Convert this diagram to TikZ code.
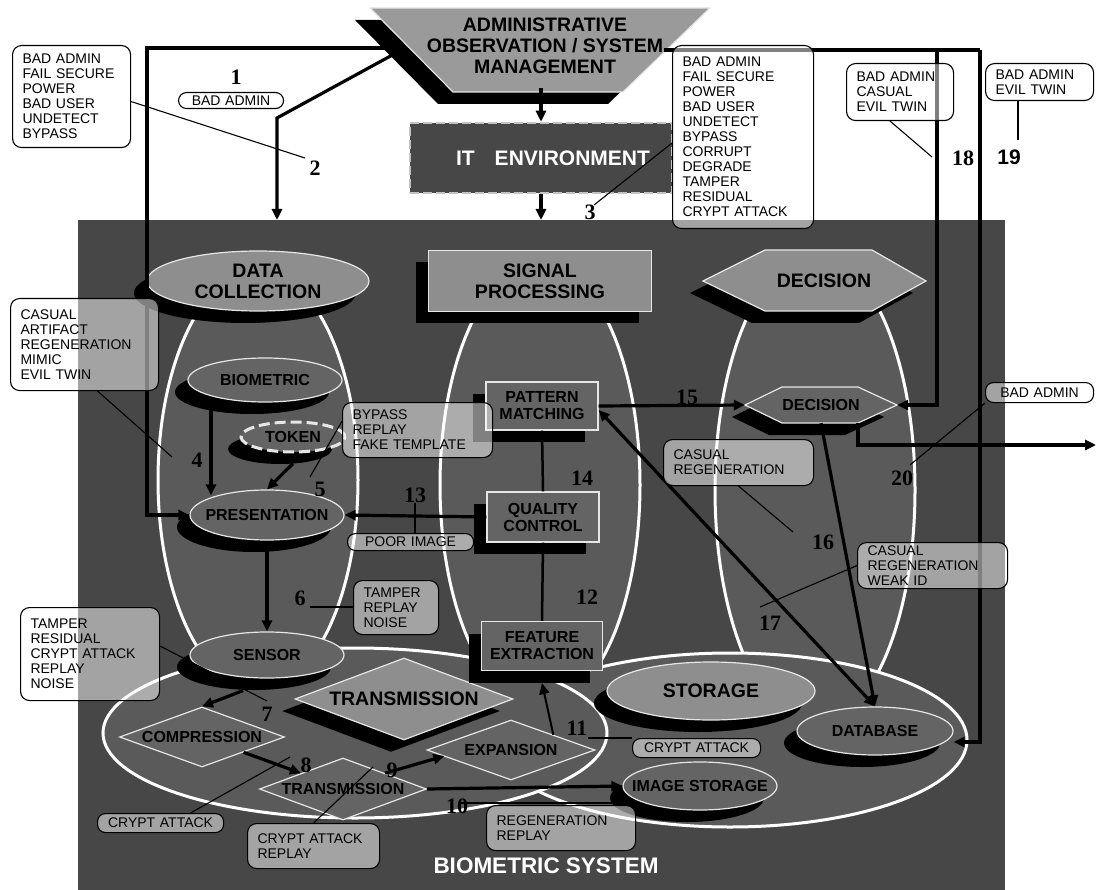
\documentclass[tikz,border=0pt]{standalone}
\usepackage{fontspec}
\setmainfont{Liberation Serif}
\setsansfont{Liberation Sans}
\usetikzlibrary{shapes.geometric,arrows.meta,shadows,positioning}

\definecolor{sysgray}{HTML}{474747}
\definecolor{zonegray}{HTML}{5A5A5A}
\definecolor{unitgray}{HTML}{646464}
\definecolor{headgray}{HTML}{8E8E8E}
\definecolor{admgray}{HTML}{9A9A9A}
\definecolor{rimgray}{HTML}{E6E6E6}

\newcommand\headfont{\sffamily\bfseries\fontsize{19.5}{21}\selectfont}
\newcommand\unitfont{\sffamily\bfseries\fontsize{16}{17}\selectfont}
\newcommand\notefont{\sffamily\fontsize{14}{15}\selectfont}
\newcommand\numfont{\rmfamily\bfseries\fontsize{22}{24}\selectfont}

\tikzset{
  blackshadow/.style={drop shadow={shadow xshift=-13pt,shadow yshift=-12pt,fill=black,opacity=1}},
  zone/.style={fill=zonegray,draw=white,line width=3pt},
  headunit/.style={fill=headgray,draw=rimgray,line width=1.2pt,font=\headfont,align=center,inner sep=0pt},
  unit/.style={fill=unitgray,draw=rimgray,line width=1.2pt,font=\unitfont,align=center,inner sep=0pt},
  note/.style={draw=black,line width=1.1pt,rounded corners=9pt,fill=white,fill opacity=0.5,text opacity=1,
    font=\notefont,align=left,anchor=north west,inner xsep=10pt,inner ysep=2pt},
  pill/.style={note,align=center,inner xsep=6pt,rounded corners=8pt},
  num/.style={font=\numfont,inner sep=0pt},
  flow/.style={line width=3.2pt,-{Triangle[length=11pt,width=10pt]}},
  bothflow/.style={line width=3.2pt,{Triangle[length=11pt,width=10pt]}-{Triangle[length=11pt,width=10pt]}},
  link/.style={line width=2.5pt},
  lead/.style={line width=1.1pt},
}

\begin{document}
\begin{tikzpicture}[x=1pt,y=-1pt]
  \useasboundingbox (0,0) rectangle (1097,890);

  %Shape: Rectangle [biometric system area]
  \node[fill=sysgray,anchor=north west,minimum width=927,minimum height=670,inner sep=0pt] (biosys) at (78,220) {};

  %Shape: Ellipse [zones]
  \draw[zone] (258,480) ellipse [x radius=100, y radius=210];
  \draw[zone] (540,485) ellipse [x radius=100, y radius=222];
  \draw[zone] (815,490) ellipse [x radius=100, y radius=235];
  \draw[zone] (730,740) ellipse [x radius=237, y radius=87];
  \draw[zone] (355,733) ellipse [x radius=252, y radius=85];

  %Shape: Trapezoid [administration]
  \fill[black] (355,20) -- (695,20) -- (608,104) -- (438,104) -- cycle;
  \draw[fill=admgray,draw=rimgray,line width=1.2pt] (370,8) -- (710,8) -- (623,92) -- (453,92) -- cycle;
  \node[font=\headfont,align=center,minimum width=170,minimum height=84,inner sep=0pt] (adm) at (545,46) {ADMINISTRATIVE\\OBSERVATION / SYSTEM\\MANAGEMENT};

  %Shape: Rectangle [IT environment]
  \node[fill=sysgray,draw=rimgray!85!black,line width=2.5pt,dash pattern=on 9pt off 4pt,minimum width=262,minimum height=70,
    font=\sffamily\bfseries\fontsize{21}{24}\selectfont,text=white] (itenv) at (541,158) {\hspace*{24pt}IT\hspace{20pt}ENVIRONMENT};

  %Shape: headers
  \node[headunit,ellipse,blackshadow,minimum width=222,minimum height=60] (datacol) at (258,281) {DATA\\COLLECTION};
  \node[headunit,rectangle,blackshadow,minimum width=223,minimum height=61] (sigproc) at (540,281) {SIGNAL\\PROCESSING};
  \fill[black] (690,293) -- (752,262) -- (859,262) -- (913,293) -- (859,323) -- (752,323) -- cycle;
  \draw[fill=headgray,draw=rimgray,line width=1.2pt] (703,281) -- (765,250) -- (872,250) -- (926,281) -- (872,311) -- (765,311) -- cycle;
  \node[font=\headfont,minimum width=223,minimum height=61,inner sep=0pt] (dechead) at (824,281) {DECISION};

  %Shape: data collection units
  \node[unit,ellipse,blackshadow,minimum width=154,minimum height=44] (biometric) at (265,380) {BIOMETRIC};
  \node[unit,ellipse,blackshadow,draw=rimgray,dash pattern=on 11pt off 5pt,line width=3pt,minimum width=104,minimum height=30] (token) at (293,437) {TOKEN};
  \node[unit,ellipse,blackshadow,minimum width=154,minimum height=50,label={[font=\unitfont]center:PRESENTATION}] (present) at (267,515) {};
  \node[unit,ellipse,blackshadow,minimum width=154,minimum height=46] (sensor) at (267,655) {SENSOR};

  %Shape: transmission units
  \node[unit,diamond,aspect=2.75,minimum width=165,minimum height=60] (compress) at (202,737) {COMPRESSION};
  \node[headunit,diamond,aspect=2.66,blackshadow,minimum width=218,minimum height=82] (transbig) at (404,699) {TRANSMISSION};
  \node[unit,diamond,aspect=2.7,minimum width=167,minimum height=62] (trans) at (343,789) {TRANSMISSION};
  \node[unit,diamond,aspect=2.8,minimum width=168,minimum height=60] (expand) at (511,750) {EXPANSION};

  %Shape: signal processing units
  \node[unit,rectangle,blackshadow,minimum width=112,minimum height=48] (patmatch) at (542,406) {PATTERN\\MATCHING};
  \node[unit,rectangle,blackshadow,minimum width=112,minimum height=50] (qualctl) at (543,517) {QUALITY\\CONTROL};
  \node[unit,rectangle,blackshadow,minimum width=121,minimum height=49] (featext) at (542,646) {FEATURE\\EXTRACTION};

  %Shape: storage units
  \node[headunit,ellipse,blackshadow,minimum width=208,minimum height=58] (storage) at (711,691) {STORAGE};
  \node[unit,ellipse,blackshadow,minimum width=156,minimum height=48] (database) at (875,731) {DATABASE};
  \node[unit,ellipse,blackshadow,minimum width=154,minimum height=48,label={[font=\unitfont]center:IMAGE STORAGE}] (imgstore) at (700,786) {};

  %Shape: Hexagon [decision unit]
  \fill[black] (732,417) -- (769,399) -- (845,399) -- (884,417) -- (845,435) -- (769,435) -- cycle;
  \draw[fill=unitgray,draw=rimgray,line width=1.2pt] (745,405) -- (782,387) -- (858,387) -- (897,405) -- (858,423) -- (782,423) -- cycle;
  \node[font=\unitfont,minimum width=152,minimum height=36,inner sep=0pt] (decin) at (821,405) {DECISION};

  %Arrows from administration
  \coordinate (admleft) at (386,48);
  \coordinate (leftbend) at (147,48);
  \coordinate (admdiag) at (396,53);
  \coordinate (diagbend) at (277,118);
  \coordinate (admright) at (664,50);
  \coordinate (rightbend) at (937,50);
  \coordinate (farbend) at (980,50);
  \draw[flow] (admleft) -- (leftbend) |- (present.west);
  \draw[flow] (admdiag) -- (diagbend) -- (diagbend |- biosys.north);
  \draw[flow] (adm.south -| itenv.north) -- (itenv.north);
  \draw[flow] (itenv.south) -- (itenv.south |- biosys.north);
  \draw[line width=3.2pt] (admright) -- (farbend);
  \draw[flow] (rightbend) |- (decin.east);
  \draw[flow] (farbend) |- ([yshift=-11pt]database.east);

  %Arrows inside the system
  \draw[flow] ([xshift=-54pt]biometric.south) -- ([xshift=-56pt,yshift=-6pt]present.north);
  \draw[flow] ([yshift=-10pt]token.south) -- (present.north);
  \draw[flow] (present.south) -- (sensor.north);
  \draw[flow] ([xshift=-24pt,yshift=-12pt]sensor.south) -- (compress.north);
  \draw[flow] (compress.south east) -- (trans.north west);
  \draw[flow] (trans.north east) -- ([xshift=18pt,yshift=-6pt]expand.west);
  \draw[flow] (trans.east) -- (imgstore.west);
  \draw[flow,line width=2pt] (expand.north east) -- ([yshift=-12pt]featext.south);
  \draw[link] (featext.north) -- (qualctl.south);
  \draw[link] (qualctl.north) -- (patmatch.south);
  \draw[flow] (qualctl.west) -- (present.east);
  \draw[flow] (patmatch.east) -- (decin.west);
  \draw[bothflow] (database.north) -- ([yshift=-4pt]patmatch.east);
  \draw[flow] (decin.south) -- (database.north);
  \coordinate (outlet) at (1096,445);
  \draw[flow] ([xshift=37pt]decin.south) |- (outlet);

  % Text Node [threat lists]
  \node[note,text width=98,minimum height=102] (note2) at (12,45) {BAD ADMIN\\FAIL SECURE\\POWER\\BAD USER\\UNDETECT\\BYPASS};
  \node[pill,text width=93,minimum height=16] (note1) at (178,92) {BAD ADMIN};
  \node[note,text width=121,minimum height=183] (note3) at (672,45) {BAD ADMIN\\FAIL SECURE\\POWER\\BAD USER\\UNDETECT\\BYPASS\\CORRUPT\\DEGRADE\\TAMPER\\RESIDUAL\\CRYPT ATTACK};
  \node[note,text width=87,minimum height=57] (note18) at (846,63) {BAD ADMIN\\CASUAL\\EVIL TWIN};
  \node[note,text width=88,minimum height=37] (note19) at (985,63) {BAD ADMIN\\EVIL TWIN};
  \node[note,text width=128,minimum height=92] (note4) at (10,298) {CASUAL\\ARTIFACT\\REGENERATION\\MIMIC\\EVIL TWIN};
  \node[note,text width=130,minimum height=55] (note5) at (342,402) {BYPASS\\REPLAY\\FAKE TEMPLATE};
  \node[pill,text width=114,minimum height=17] (note13) at (347,533) {POOR IMAGE};
  \node[note,text width=65,minimum height=54] (note6) at (353,580) {TAMPER\\REPLAY\\NOISE};
  \node[note,text width=119,minimum height=93] (note7) at (20,607) {TAMPER\\RESIDUAL\\CRYPT ATTACK\\REPLAY\\NOISE};
  \node[pill,text width=114,minimum height=19] (note8) at (97,813) {CRYPT ATTACK};
  \node[note,text width=112,minimum height=45] (note9) at (247,823) {CRYPT ATTACK\\REPLAY};
  \node[note,text width=129,minimum height=45] (note10) at (486,805) {REGENERATION\\REPLAY};
  \node[pill,text width=116,minimum height=19] (note11) at (632,738) {CRYPT ATTACK};
  \node[note,text width=130,minimum height=46] (note16) at (663,439) {CASUAL\\REGENERATION};
  \node[note,text width=130,minimum height=46,inner ysep=1pt] (note17) at (857,542) {CASUAL\\REGENERATION\\WEAK ID};
  \node[pill,text width=96,minimum height=20] (note20) at (985,382) {BAD ADMIN};

  % Text Node [threat numbers]
  \node[num] (n1) at (236,77) {1};
  \node[num] (n2) at (315,168) {2};
  \node[num] (n3) at (590,212) {3};
  \node[num] (n4) at (197,460) {4};
  \node[num] (n5) at (320,489) {5};
  \node[num] (n6) at (300,598) {6};
  \node[num] (n7) at (267,714) {7};
  \node[num] (n8) at (306,765) {8};
  \node[num] (n9) at (392,770) {9};
  \node[num] (n10) at (457,806) {10};
  \node[num] (n11) at (577,728) {11};
  \node[num] (n12) at (587,597) {12};
  \node[num] (n13) at (415,495) {13};
  \node[num] (n14) at (582,478) {14};
  \node[num] (n15) at (687,397) {15};
  \node[num] (n16) at (823,542) {16};
  \node[num] (n17) at (770,623) {17};
  \node[num] (n18) at (963,158) {18};
  \node[num,font=\sffamily\bfseries\fontsize{21}{24}\selectfont] (n19) at (1009,157) {19};
  \node[num] (n20) at (902,478) {20};

  %Straight Lines [leaders]
  \coordinate (l2) at (305,158);
  \coordinate (l3) at (594,205);
  \coordinate (l18) at (932,157);
  \coordinate (l19) at (1018,140);
  \coordinate (l4) at (172,457);
  \coordinate (l5) at (310,477);
  \coordinate (l6) at (310,607);
  \coordinate (l7) at (267,701);
  \coordinate (l8) at (290,757);
  \coordinate (l9) at (373,767);
  \coordinate (l10) at (460,803);
  \coordinate (l11) at (588,738);
  \coordinate (l16) at (793,532);
  \coordinate (l17) at (760,607);
  \coordinate (l20) at (910,465);
  \draw[lead] ([yshift=-5pt]note2.east) -- (l2);
  \draw[lead] ([yshift=-6pt]note3.west) -- (l3);
  \draw[lead] ([xshift=-10pt]note18.south) -- (l18);
  \draw[lead] (l19 |- note19.south) -- (l19);
  \draw[lead] ([xshift=13pt]note4.south) -- (l4);
  \draw[lead] ([yshift=9pt]note5.west) -- (l5);
  \draw[lead] (n13.south) -- (n13.south |- note13.north);
  \draw[lead] (l6) -- (l6 -| note6.west);
  \draw[lead] ([yshift=8pt]note7.east) -- (l7);
  \draw[lead] ([xshift=30pt]note8.north) -- (l8);
  \draw[lead] (note9.north) -- (l9);
  \draw[lead] (l10) -- ([xshift=-12pt]l10 -| note10.east);
  \draw[lead] (l11) -- (l11 -| note11.west);
  \draw[lead] (note16.south) -- (l16);
  \draw[lead] (note17.west) -- (l17);
  \draw[lead] (note20.south west) -- (l20);

  % Text Node [system title]
  \node[font=\sffamily\bfseries\fontsize{22.5}{24}\selectfont,text=white] (systitle) at (546,866) {BIOMETRIC SYSTEM};
\end{tikzpicture}
\end{document}
